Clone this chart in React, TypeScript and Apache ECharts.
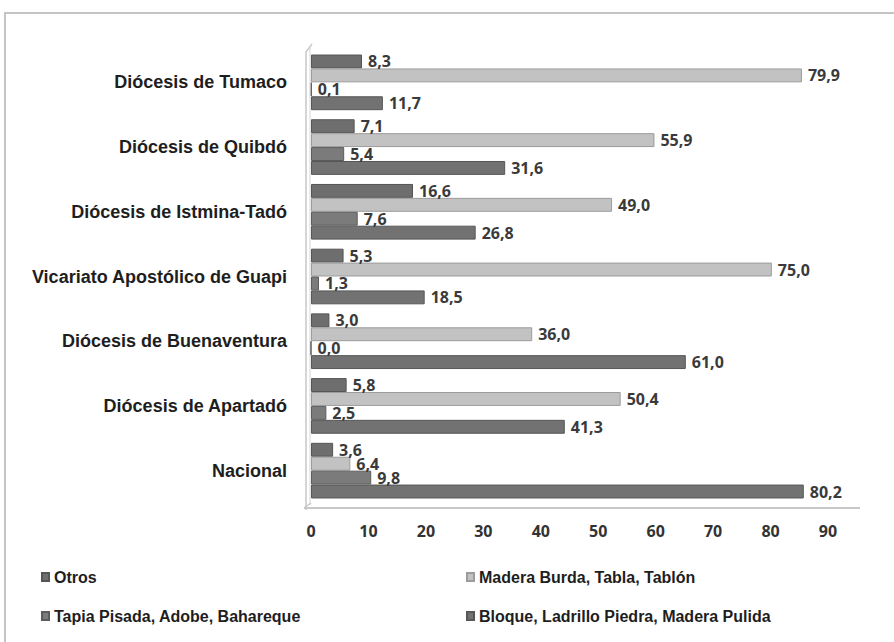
import React, { useEffect, useRef } from "react";
import * as echarts from "echarts";

const categories = [
  "Diócesis de Tumaco",
  "Diócesis de Quibdó",
  "Diócesis de Istmina-Tadó",
  "Vicariato Apostólico de Guapi",
  "Diócesis de Buenaventura",
  "Diócesis de Apartadó",
  "Nacional",
];
const otros = [8.3, 7.1, 16.6, 5.3, 3.0, 5.8, 3.6];
const madera = [79.9, 55.9, 49.0, 75.0, 36.0, 50.4, 6.4];
const tapia = [0.1, 5.4, 7.6, 1.3, 0.0, 2.5, 9.8];
const bloque = [11.7, 31.6, 26.8, 18.5, 61.0, 41.3, 80.2];
const seriesNames = [
  "Otros",
  "Madera Burda, Tabla, Tablón",
  "Tapia Pisada, Adobe, Bahareque",
  "Bloque, Ladrillo Piedra, Madera Pulida",
];
const tickValues = [0, 10, 20, 30, 40, 50, 60, 70, 80, 90];

const colors = ["#6e6e6e", "#c2c2c2", "#7b7b7b", "#727272"];
const borders = ["#555555", "#9c9c9c", "#5c5c5c", "#575757"];

export default function App() {
  const ref = useRef<HTMLDivElement>(null);
  useEffect(() => {
    document.body.style.margin = "0";
    const chart = echarts.init(ref.current!, undefined, { renderer: "svg" });
    const dataSets = [otros, madera, tapia, bloque];
    const fmt = (p: any) => Number(p.value).toFixed(1).replace(".", ",");
    const legendText = {
      fontFamily: "Arial",
      fontWeight: "bold",
      fontSize: 16,
      color: "#1e1e1e",
    };
    chart.setOption({
      animation: false,
      backgroundColor: "#ffffff",
      grid: [
        { left: 311, top: 50, width: 553, height: 453 },
        { left: 311, top: 50, width: 517, height: 458 },
      ],
      xAxis: [
        { gridIndex: 0, type: "value", min: 0, max: 90, show: false },
        {
          gridIndex: 1,
          type: "value",
          min: tickValues[0],
          max: tickValues[tickValues.length - 1],
          interval: 10,
          axisLine: { show: false },
          axisTick: { show: false },
          splitLine: { show: false },
          axisLabel: {
            margin: 15,
            color: "#333333",
            fontFamily: "Open Sans",
            fontWeight: "bold",
            fontSize: 16,
          },
        },
      ],
      yAxis: [
        {
          gridIndex: 0,
          type: "category",
          data: categories,
          inverse: true,
          axisLine: { show: false },
          axisTick: { show: false },
          axisLabel: {
            margin: 24,
            color: "#1e1e1e",
            fontFamily: "Arial",
            fontWeight: "bold",
            fontSize: 18,
          },
        },
        { gridIndex: 1, type: "value", show: false },
      ],
      legend: [
        {
          data: [seriesNames[0], seriesNames[2]],
          orient: "vertical",
          left: 36,
          top: 564,
          itemGap: 23,
          itemWidth: 7,
          itemHeight: 8,
          icon: "rect",
          textStyle: legendText,
        },
        {
          data: [seriesNames[1], seriesNames[3]],
          orient: "vertical",
          left: 461,
          top: 564,
          itemGap: 23,
          itemWidth: 7,
          itemHeight: 8,
          icon: "rect",
          textStyle: legendText,
        },
      ],
      graphic: [
        {
          type: "rect",
          shape: { x: 5, y: 13, width: 920, height: 660 },
          style: { fill: "none", stroke: "#c4c4c4", lineWidth: 2 },
          silent: true,
        },
        {
          type: "polyline",
          shape: { points: [[306, 510], [306, 52], [312, 44]] },
          style: { fill: "none", stroke: "#c8c8c8", lineWidth: 1.5 },
          silent: true,
        },
        {
          type: "line",
          shape: { x1: 310, y1: 505, x2: 310, y2: 48 },
          style: { stroke: "#d4d4d4", lineWidth: 1 },
          silent: true,
        },
        {
          type: "line",
          shape: { x1: 304, y1: 508, x2: 860, y2: 508 },
          style: { stroke: "#c8c8c8", lineWidth: 2 },
          silent: true,
        },
        {
          type: "line",
          shape: { x1: 304, y1: 508, x2: 311, y2: 503 },
          style: { stroke: "#c8c8c8", lineWidth: 1.5 },
          silent: true,
        },
      ],
      series: dataSets.map((d, i) => ({
        name: seriesNames[i],
        type: "bar",
        xAxisIndex: 0,
        yAxisIndex: 0,
        data: d,
        barGap: "0%",
        barCategoryGap: "14%",
        itemStyle: { color: colors[i], borderColor: borders[i], borderWidth: 1 },
        label: {
          show: true,
          position: "right",
          distance: 6,
          formatter: fmt,
          color: "#3a3a3a",
          fontFamily: "Open Sans",
          fontWeight: "bold",
          fontSize: 16,
        },
      })),
    });
    return () => chart.dispose();
  }, []);
  return <div ref={ref} style={{ width: 894, height: 642 }} />;
}
